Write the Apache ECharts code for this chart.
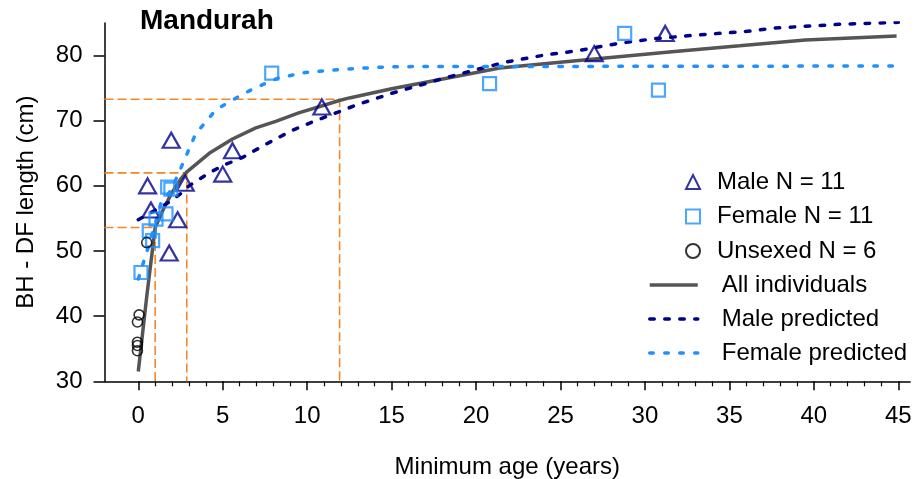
<!DOCTYPE html>
<html>
<head>
<meta charset="utf-8">
<script src="https://cdn.jsdelivr.net/npm/echarts@6/dist/echarts.min.js"></script>
<style>
  html, body { margin: 0; padding: 0; background: #fff; }
  #chart { width: 915px; height: 479px; }
</style>
</head>
<body>
<div id="chart"></div>
<script>
// observed points
var maleAge = [0.55, 0.75, 1.83, 1.95, 2.33, 2.78, 5.0, 5.58, 10.87, 27.0, 31.2];
var maleLen = [60.0, 56.3, 49.7, 67.0, 54.8, 60.4, 61.8, 65.4, 72.1, 80.3, 83.4];
var femaleAge = [0.16, 0.65, 0.85, 1.05, 1.64, 1.74, 1.93, 7.9, 20.8, 28.8, 30.8];
var femaleLen = [46.7, 53.1, 51.6, 54.9, 55.7, 59.8, 59.5, 77.3, 75.7, 83.4, 74.7];
var unsexedAge = [0.5, 0.05, -0.05, -0.05, -0.05, -0.05];
var unsexedLen = [51.3, 40.2, 39.1, 36.0, 35.5, 34.7];

// fitted curves
var allAge = [0, 0.5, 1, 1.5, 2, 2.5, 2.86, 4.2, 5.58, 6.96, 8.14, 9.5, 10.9, 11.9, 12.5, 15, 17.8, 21.4, 26.7, 31.6, 35.6, 39.5, 44.9];
var allLen = [31.5, 43.0, 53.6, 56.5, 59.0, 61.0, 62.1, 65.0, 67.2, 68.9, 69.9, 71.2, 72.3, 73.1, 73.5, 74.9, 76.3, 78.1, 79.4, 80.6, 81.5, 82.4, 83.0];
var malePredAge = [0, 1.64, 2.62, 3, 4.2, 5, 6.2, 7.56, 9.1, 10.3, 11.3, 13, 15, 17.8, 19.8, 21.75, 24.1, 25.9, 28.5, 30.6, 32.8, 36.4, 37.5, 41.5, 45];
var malePredLen = [54.8, 57.2, 59.0, 60.0, 62.0, 63.1, 64.4, 66.4, 68.5, 69.8, 70.8, 72.5, 74.2, 76.3, 77.7, 79.0, 80.1, 80.7, 81.9, 82.6, 83.1, 83.8, 84.2, 84.8, 85.1];
var femalePredAge = [0, 0.65, 0.95, 1.34, 1.93, 2.23, 2.5, 3.4, 4.6, 6.0, 6.96, 8.34, 9.9, 12.1, 15, 45];
var femalePredLen = [45.7, 51.1, 53.7, 57.3, 59.3, 61.0, 62.6, 68.0, 71.7, 73.8, 75.1, 76.6, 77.4, 77.9, 78.3, 78.4];

// reference ages and their predicted lengths (orange guides)
var refAge = [1.0, 2.87, 11.92];
var refLen = [53.6, 62.0, 73.3];

// ticks
var xTicks = [0, 5, 10, 15, 20, 25, 30, 35, 40, 45];
var xMinorTicks = [1, 2, 3, 4, 6, 7, 8, 9, 11, 12, 13, 14, 16, 17, 18, 19, 21, 22, 23, 24,
  26, 27, 28, 29, 31, 32, 33, 34, 36, 37, 38, 39, 41, 42, 43, 44];
var yTicks = [30, 40, 50, 60, 70, 80];

function pairs(xs, ys) {
  return xs.map(function (x, i) { return [x, ys[i]]; });
}

var FONT = "'Liberation Sans', Arial, sans-serif";
var X_MIN = -2, X_MAX = 45.7, Y_MIN = 30, Y_MAX = 85;
var NAVY = '#00008B', BLUE = '#1E90FF', GREY = '#555555';

var refSeries = refAge.map(function (a, i) {
  return {
    type: 'line',
    data: [[X_MIN, refLen[i]], [a, refLen[i]], [a, Y_MIN]],
    symbol: 'none',
    silent: true,
    z: 1,
    lineStyle: { color: '#F0882A', width: 1.6, type: [9, 4] }
  };
});

var chart = echarts.init(document.getElementById('chart'));
var option = {
  animation: false,
  title: {
    text: 'Mandurah',
    left: 140,
    top: 7,
    padding: 0,
    textStyle: { fontFamily: FONT, fontSize: 28, fontWeight: 'bold', color: '#000' }
  },
  legend: [
    {
      orient: 'vertical',
      left: 685,
      top: 170,
      padding: 0,
      itemWidth: 14,
      itemHeight: 14,
      itemGap: 10.5,
      data: ['Male N = 11', 'Female N = 11', 'Unsexed N = 6'],
      textStyle: { fontFamily: FONT, fontSize: 24, color: '#000', padding: [0, 0, 0, 12] }
    },
    {
      orient: 'vertical',
      left: 648,
      top: 273,
      padding: 0,
      itemWidth: 48,
      itemHeight: 14,
      itemGap: 10,
      itemStyle: { opacity: 0 },
      lineStyle: { width: 3.5 },
      data: ['All individuals', 'Male predicted', 'Female predicted'],
      textStyle: { fontFamily: FONT, fontSize: 24, color: '#000', padding: [0, 0, 0, 19] }
    }
  ],
  grid: { left: 104.5, top: 23, width: 805.6, height: 358.3, outerBoundsMode: 'none', containLabel: false },
  xAxis: [
    {
      type: 'value',
      position: 'bottom',
      min: X_MIN,
      max: X_MAX,
      name: 'Minimum age (years)',
      nameLocation: 'middle',
      nameGap: 74,
      nameTextStyle: { fontFamily: FONT, fontSize: 24, color: '#000' },
      axisLine: { onZero: false, lineStyle: { color: '#000', width: 1.5 } },
      axisTick: { customValues: xTicks, length: 9, lineStyle: { color: '#000', width: 1.5 } },
      axisLabel: { customValues: xTicks, margin: 23, fontFamily: FONT, fontSize: 24, color: '#000' },
      splitLine: { show: false }
    },
    {
      type: 'value',
      position: 'bottom',
      min: X_MIN,
      max: X_MAX,
      axisLine: { show: false, onZero: false },
      axisTick: { customValues: xMinorTicks, length: 5, lineStyle: { color: '#000', width: 1.2 } },
      axisLabel: { show: false },
      splitLine: { show: false }
    }
  ],
  yAxis: {
    type: 'value',
    min: Y_MIN,
    max: Y_MAX,
    name: 'BH - DF length (cm)',
    nameLocation: 'middle',
    nameGap: 66,
    nameTextStyle: { fontFamily: FONT, fontSize: 24, color: '#000' },
    axisLine: { onZero: false, lineStyle: { color: '#000', width: 1.5 } },
    axisTick: { customValues: yTicks, length: 11, lineStyle: { color: '#000', width: 1.5 } },
    axisLabel: { customValues: yTicks, margin: 22, fontFamily: FONT, fontSize: 24, color: '#000' },
    splitLine: { show: false }
  },
  series: refSeries.concat([
    {
      name: 'All individuals',
      type: 'line',
      data: pairs(allAge, allLen),
      symbol: 'none',
      z: 2,
      lineStyle: { color: GREY, width: 3.5 },
      itemStyle: { color: GREY }
    },
    {
      name: 'Male predicted',
      type: 'line',
      data: pairs(malePredAge, malePredLen),
      symbol: 'none',
      z: 2,
      lineStyle: { color: NAVY, width: 3.5, type: [4.5, 10.5], cap: 'round' },
      itemStyle: { color: NAVY }
    },
    {
      name: 'Female predicted',
      type: 'line',
      data: pairs(femalePredAge, femalePredLen),
      symbol: 'none',
      z: 2,
      lineStyle: { color: BLUE, width: 3.5, type: [3.5, 11.5], cap: 'round' },
      itemStyle: { color: BLUE }
    },
    {
      name: 'Male N = 11',
      type: 'scatter',
      data: pairs(maleAge, maleLen),
      symbol: 'triangle',
      symbolSize: [17, 15],
      z: 3,
      itemStyle: { color: 'rgba(0,0,0,0)', borderColor: NAVY, borderWidth: 2.2 }
    },
    {
      name: 'Female N = 11',
      type: 'scatter',
      data: pairs(femaleAge, femaleLen),
      symbol: 'rect',
      symbolSize: 13,
      z: 3,
      itemStyle: { color: 'rgba(0,0,0,0)', borderColor: BLUE, borderWidth: 2.2 }
    },
    {
      name: 'Unsexed N = 6',
      type: 'scatter',
      data: pairs(unsexedAge, unsexedLen),
      symbol: 'circle',
      symbolSize: 10,
      z: 3,
      itemStyle: { color: 'rgba(0,0,0,0)', borderColor: '#000', borderWidth: 1.6 }
    }
  ])
};
chart.setOption(option);
</script>
</body>
</html>
